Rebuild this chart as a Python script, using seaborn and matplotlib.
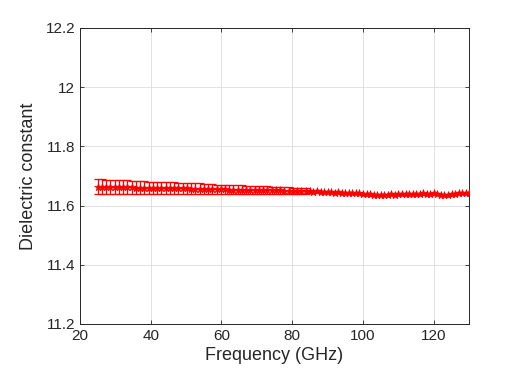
import numpy as np
import pandas as pd
import seaborn as sns
import matplotlib
matplotlib.use("Agg")
import matplotlib.pyplot as plt

# band 1: coarse sweep with larger uncertainty
freq_band1 = [25.0, 26.2, 27.4, 28.6, 29.8, 31.0, 32.2, 33.4, 34.6, 35.8,
              37.0, 38.2, 39.4, 40.6, 41.8, 43.0, 44.2, 45.4, 46.6, 47.8,
              49.0, 50.2, 51.4, 52.6, 53.8, 55.0, 56.2, 57.4, 58.6, 59.8,
              61.0, 62.2, 63.4, 64.6, 65.8, 67.0, 68.2, 69.4, 70.6, 71.8,
              73.0, 74.2, 75.4, 76.6, 77.8, 79.0, 80.2, 81.4, 82.6, 83.8]
eps_band1 = [11.664, 11.664, 11.663, 11.663, 11.663, 11.663, 11.662, 11.662, 11.662, 11.661,
             11.661, 11.661, 11.660, 11.660, 11.660, 11.660, 11.659, 11.659, 11.659, 11.658,
             11.658, 11.658, 11.657, 11.657, 11.657, 11.656, 11.656, 11.656, 11.655, 11.655,
             11.655, 11.654, 11.654, 11.654, 11.653, 11.653, 11.653, 11.652, 11.652, 11.652,
             11.652, 11.651, 11.651, 11.651, 11.650, 11.650, 11.650, 11.650, 11.649, 11.649]
err_band1 = [0.025, 0.025, 0.024, 0.024, 0.024, 0.023, 0.023, 0.023, 0.022, 0.022,
             0.022, 0.022, 0.021, 0.021, 0.021, 0.020, 0.020, 0.020, 0.019, 0.019,
             0.019, 0.018, 0.018, 0.018, 0.018, 0.017, 0.017, 0.017, 0.016, 0.016,
             0.016, 0.015, 0.015, 0.015, 0.015, 0.014, 0.014, 0.014, 0.013, 0.013,
             0.013, 0.013, 0.012, 0.012, 0.012, 0.012, 0.011, 0.011, 0.011, 0.011]

# band 2: fine sweep, small uncertainty
freq_band2 = [85, 86, 87, 88, 89, 90, 91, 92, 93, 94, 95, 96, 97, 98, 99, 100,
              101, 102, 103, 104, 105, 106, 107, 108, 109, 110, 111, 112, 113, 114, 115,
              116, 117, 118, 119, 120, 121, 122, 123, 124, 125, 126, 127, 128, 129, 130]
eps_band2 = [11.648, 11.647, 11.648, 11.646, 11.647, 11.645, 11.646, 11.644, 11.645, 11.643,
             11.644, 11.642, 11.643, 11.641, 11.641, 11.640, 11.638, 11.638, 11.636, 11.637,
             11.636, 11.637, 11.637, 11.638, 11.637, 11.639, 11.638, 11.639, 11.640, 11.638,
             11.640, 11.639, 11.641, 11.639, 11.640, 11.641, 11.639, 11.637, 11.635, 11.636,
             11.638, 11.640, 11.642, 11.641, 11.643, 11.642]
err_band2 = [0.003] * len(freq_band2)

df = pd.DataFrame({
    "freq": freq_band1 + freq_band2,
    "eps": eps_band1 + eps_band2,
    "err": err_band1 + err_band2,
})

sns.set_style("whitegrid")
plt.rcParams["font.family"] = ["Liberation Sans", "DejaVu Sans"]

fig = plt.figure(figsize=(5.29, 3.78), dpi=100)
ax = fig.add_axes([0.151, 0.143, 0.736, 0.783])

ax.errorbar(df["freq"], df["eps"], yerr=df["err"], fmt="-", color="red",
            linewidth=0.7, elinewidth=0.9, capsize=3, capthick=0.9, zorder=3)
sns.scatterplot(data=df, x="freq", y="eps", marker="*", color="red", s=32,
                linewidth=0.5, edgecolor="red", ax=ax, zorder=4)

ax.set_xlim(20, 130)
ax.set_ylim(11.2, 12.2)
ax.set_xticks([20, 40, 60, 80, 100, 120])
ax.set_yticks([11.2, 11.4, 11.6, 11.8, 12.0, 12.2])
ax.set_yticklabels(["11.2", "11.4", "11.6", "11.8", "12", "12.2"])

dark = "#262626"
ax.set_xlabel("Frequency (GHz)", fontsize=13, color=dark, labelpad=3)
ax.set_ylabel("Dielectric constant", fontsize=13, color=dark, labelpad=6)
ax.tick_params(direction="in", length=3, width=0.6, colors=dark,
               labelsize=11, top=True, right=True, left=True, bottom=True)
ax.grid(True, color="#dcdcdc", linewidth=0.6)
for s in ax.spines.values():
    s.set_color(dark)
    s.set_linewidth(0.7)
    s.set_visible(True)

fig.savefig("out.png", dpi=100, facecolor="white")
